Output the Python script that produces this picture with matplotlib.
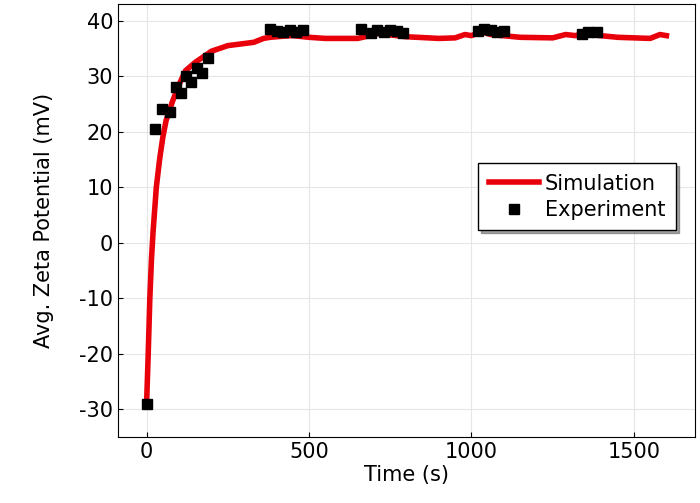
import matplotlib.pyplot as plt

plt.rcParams["axes.unicode_minus"] = False

# Simulation curve
sim_t = [0, 5, 10, 15, 20, 30, 40, 50, 60, 80, 100, 120, 150, 200, 250, 330, 360, 380, 420, 450,
         500, 550, 650, 680, 700, 740, 800, 900, 950, 980, 1000, 1030, 1060, 1150, 1250, 1290, 1320,
         1350, 1380, 1450, 1550, 1580, 1600]
sim_z = [-29, -20, -10, -3, 2, 10, 15, 19, 22, 25.5, 28.5, 31, 32.5, 34.5, 35.5, 36.1, 36.8, 37.0,
         37.2, 37.3, 37.0, 36.8, 36.8, 37.2, 37.7, 37.5, 37.1, 36.8, 36.9, 37.5, 37.3, 38.0, 37.5,
         37.0, 36.9, 37.5, 37.3, 37.8, 37.4, 37.0, 36.8, 37.5, 37.3]

# Experimental points
exp_t = [0, 25, 46, 71, 89, 105, 120, 138, 154, 172, 188,
         380, 400, 420, 440, 460, 480,
         660, 690, 710, 730, 750, 770, 790,
         1020, 1040, 1060, 1080, 1100,
         1340, 1360, 1385]
exp_z = [-29, 20.4, 24, 23.6, 28, 27, 30, 29, 31.5, 30.5, 33.2,
         38.5, 38.2, 38.0, 38.3, 38.0, 38.4,
         38.5, 37.8, 38.3, 38.0, 38.4, 38.2, 37.8,
         38.2, 38.5, 38.4, 38.0, 38.2,
         37.6, 37.9, 38.0]

fig = plt.figure(figsize=(7, 5.03), dpi=100)
ax = fig.add_axes([118/700, 1-437/503, 577/700, 433/503])
ax.plot(sim_t, sim_z, color="#e8000b", lw=4, label="Simulation", zorder=2)
ax.plot(exp_t, exp_z, "s", color="black", ms=7, ls="none", label="Experiment", zorder=3)
ax.set_xlim(-88, 1688)
ax.set_ylim(-35, 43)
ax.set_xticks([0, 500, 1000, 1500])
ax.set_yticks(range(-30, 41, 10))
ax.grid(True, color="#e6e6e6", lw=0.8)
ax.set_axisbelow(True)
ax.tick_params(labelsize=15, direction="in")
ax.set_xlabel("Time (s)", fontsize=15, labelpad=2)
ax.set_ylabel("Avg. Zeta Potential (mV)", fontsize=15, labelpad=18)
ax.legend(loc="center right", bbox_to_anchor=(0.985, 0.555), fontsize=15, fancybox=False,
          shadow=True, edgecolor="black", framealpha=1, handlelength=2.4,
          handletextpad=0.3, borderpad=0.5, labelspacing=0.3)
fig.savefig("out.png", dpi=100)
